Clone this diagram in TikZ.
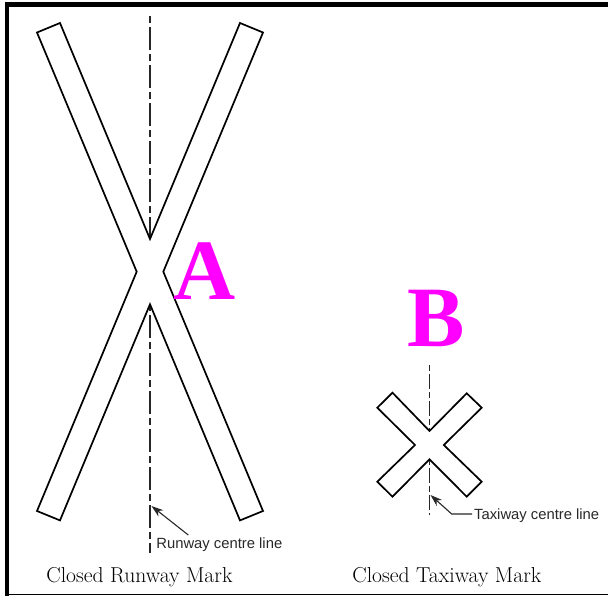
\documentclass[tikz,border=0pt]{standalone}
\usepackage{fontspec}
\newfontfamily\labfont{Liberation Sans}
\newfontfamily\letfont{Liberation Serif}
\usetikzlibrary{arrows.meta}
\definecolor{markmagenta}{RGB}{255,0,255}
\definecolor{labgray}{RGB}{40,40,40}
\begin{document}
\begin{tikzpicture}[x=1pt,y=-1pt,
  mark outline/.style={draw=black,line width=1.7pt,line join=miter},
  bigcl/.style={draw=black!85,line width=1.4pt,dash pattern=on 7pt off 4pt on 23pt off 4pt},
  smallcl/.style={draw=black!85,line width=1.3pt,dash pattern=on 6pt off 3pt on 15pt off 3pt},
  leader/.style={draw=labgray,line width=1.1pt,-{Stealth[length=12pt,width=8pt]}},
  smalllab/.style={font=\labfont\fontsize{14.8}{16}\selectfont,text=labgray,inner sep=0pt,anchor=base west},
  caption/.style={font=\fontsize{21.6}{24}\selectfont,inner sep=0pt,anchor=base west},
  bigletter/.style={font=\letfont\bfseries\fontsize{86}{90}\selectfont,text=markmagenta,inner sep=0pt,anchor=base west}]
\useasboundingbox (0,0) rectangle (608,596);
% frame
\fill[black] (4.7,1.7) rectangle (608,6.7);
\fill[black] (4.7,1.7) rectangle (9,595.5);
\fill[black] (4.7,593.6) rectangle (608,595.2);
% runway centre line
\coordinate (rcTop) at (150,16);
\coordinate (rcV1) at (150,239);
\coordinate (rcV2) at (150,304.3);
\coordinate (rcBot) at (150,553);
\draw[bigcl] (rcTop) -- (rcV1);
\draw[bigcl] (rcV2) -- (rcBot);
% closed runway mark (large X)
\draw[mark outline] (60,23) -- (150,239) -- (240,23) -- (263,32.5) -- (163.3,271.7)
  -- (263,511) -- (240,520.4) -- (150,304.3) -- (60,520.4) -- (37,511)
  -- (136.7,271.7) -- (37,32.5) -- cycle;
% taxiway centre line
\coordinate (tcTop) at (429.5,365);
\coordinate (tcV1) at (429.5,431);
\coordinate (tcV2) at (429.5,459.3);
\coordinate (tcBot) at (429.5,515);
\draw[smallcl] (tcTop) -- (tcV1);
\draw[smallcl] (tcV2) -- (tcBot);
% closed taxiway mark (small X)
\draw[mark outline] (429.5,431) -- (466.7,393.3) -- (481.7,407.7) -- (443.8,445)
  -- (481.7,481.7) -- (466.7,496.7) -- (429.5,459.3) -- (392.5,496.7)
  -- (377.3,481.7) -- (415,445) -- (377.3,407.7) -- (392.5,392.7) -- cycle;
% letters
\node[bigletter] (A) at (173,299) {A};
\node[bigletter] (B) at (407,346.7) {B};
% labels
\node[smalllab] (rlab) at (156.2,548.2) {Runway centre line};
\node[smalllab] (tlab) at (474,519) {Taxiway centre line};
\coordinate (rArrowTail) at (188.3,535);
\coordinate (rArrowTip) at (151.5,506);
\draw[leader] (rArrowTail) -- (rArrowTip);
\coordinate (tArrowTail) at (472,514);
\coordinate (tArrowBend) at (451.7,514);
\coordinate (tArrowTip) at (430.5,495);
\draw[leader] (tArrowTail) -- (tArrowBend) -- (tArrowTip);
% captions
\node[caption] (rcap) at (46.2,582.5) {Closed Runway Mark};
\node[caption] (tcap) at (352.2,582.5) {Closed Taxiway Mark};
\end{tikzpicture}
\end{document}
